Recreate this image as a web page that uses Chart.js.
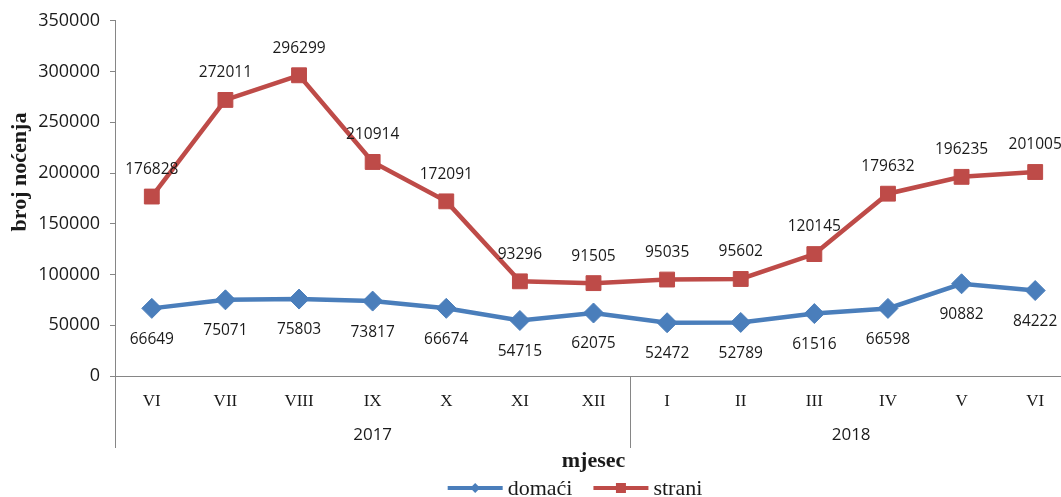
<!DOCTYPE html>
<html lang="en">
<head>
<meta charset="UTF-8">
<title>Noćenja turista</title>
<script src="https://cdn.jsdelivr.net/npm/chart.js@4.4.0/dist/chart.umd.min.js"></script>
<style>
    body { margin: 0; background: #fff; overflow: hidden; }
    .chart-box { width: 1141px; height: 497px; position: relative; }
</style>
</head>
<body>
<div class="chart-box"><canvas id="nocenja"></canvas></div>
<script>
    const months = ['VI', 'VII', 'VIII', 'IX', 'X', 'XI', 'XII', 'I', 'II', 'III', 'IV', 'V', 'VI'];
    const years = ['2017', '2018'];
    const yearFirstMonth = [0, 7];   // index of first month of each year
    const domaci = [66649, 75071, 75803, 73817, 66674, 54715, 62075, 52472, 52789, 61516, 66598, 90882, 84222];
    const strani = [176828, 272011, 296299, 210914, 172091, 93296, 91505, 95035, 95602, 120145, 179632, 196235, 201005];
    const yMax = 350000;
    const yStep = 50000;

    const BLUE = '#4a7ebb';
    const RED = '#be4b48';
    const AXIS = '#868686';
    const INK = '#1a1a1a';
    const SANS = '"Open Sans", "Liberation Sans", sans-serif';
    const SERIF = '"Liberation Serif", serif';

    const valueLabels = {
        id: 'valueLabels',
        afterDatasetsDraw(chart) {
            const ctx = chart.ctx;
            ctx.save();
            ctx.font = '15.5px ' + SANS;
            ctx.fillStyle = INK;
            ctx.textAlign = 'center';
            ctx.textBaseline = 'middle';
            chart.data.datasets.forEach((ds, i) => {
                const meta = chart.getDatasetMeta(i);
                meta.data.forEach((pt, j) => {
                    ctx.fillText(String(ds.data[j]), pt.x, pt.y + ds.labelOffset);
                });
            });
            ctx.restore();
        }
    };

    // year row under the months, separators, y axis title and the legend
    const extras = {
        id: 'extras',
        afterDraw(chart) {
            const x = chart.scales.x;
            const area = chart.chartArea;
            const ctx = chart.ctx;
            ctx.save();
            ctx.strokeStyle = AXIS;
            ctx.lineWidth = 1;
            const seps = [area.left, area.right];
            yearFirstMonth.slice(1).forEach(i => {
                seps.push((x.getPixelForValue(i - 1) + x.getPixelForValue(i)) / 2);
            });
            seps.forEach(px => {
                ctx.beginPath();
                ctx.moveTo(Math.round(px) + 0.5, area.bottom);
                ctx.lineTo(Math.round(px) + 0.5, area.bottom + 72);
                ctx.stroke();
            });
            ctx.font = '17px ' + SANS;
            ctx.fillStyle = INK;
            ctx.textAlign = 'center';
            ctx.textBaseline = 'middle';
            years.forEach((yr, k) => {
                const first = yearFirstMonth[k];
                const last = k + 1 < yearFirstMonth.length ? yearFirstMonth[k + 1] - 1 : months.length - 1;
                const cx = (x.getPixelForValue(first) + x.getPixelForValue(last)) / 2;
                ctx.fillText(yr, cx, area.bottom + 59);
            });

            // legend: line with marker, then the label
            ctx.font = '22px ' + SERIF;
            ctx.textAlign = 'left';
            const items = chart.data.datasets.map(ds => ({ ds, w: ctx.measureText(ds.label).width }));
            const total = items.reduce((s, it) => s + 60 + it.w, 0) + 21;
            let lx = 575 - total / 2;
            const ly = 488;
            items.forEach(({ ds, w }) => {
                ctx.strokeStyle = ds.borderColor;
                ctx.fillStyle = ds.borderColor;
                ctx.lineWidth = 4;
                ctx.beginPath(); ctx.moveTo(lx, ly); ctx.lineTo(lx + 55, ly); ctx.stroke();
                const mx = lx + 27.5;
                ctx.beginPath();
                if (ds.pointStyle === 'rectRot') {
                    ctx.moveTo(mx, ly - 5); ctx.lineTo(mx + 5, ly); ctx.lineTo(mx, ly + 5); ctx.lineTo(mx - 5, ly);
                } else {
                    ctx.rect(mx - 5, ly - 5, 10, 10);
                }
                ctx.fill();
                ctx.fillStyle = INK;
                ctx.fillText(ds.label, lx + 60, ly + 1);
                lx += 60 + w + 21;
            });

            ctx.translate(20, 172);
            ctx.rotate(-Math.PI / 2);
            ctx.textAlign = 'center';
            ctx.font = 'bold 22px ' + SERIF;
            ctx.fillText('broj noćenja', 0, 0);
            ctx.restore();
        }
    };

    new Chart(document.getElementById('nocenja'), {
        type: 'line',
        data: {
            labels: months,
            datasets: [{
                label: 'domaći',
                data: domaci,
                borderColor: BLUE,
                backgroundColor: BLUE,
                borderWidth: 4.5,
                pointStyle: 'rectRot',
                pointRadius: 10,
                pointBorderWidth: 1,
                labelOffset: 31,
                tension: 0
            }, {
                label: 'strani',
                data: strani,
                borderColor: RED,
                backgroundColor: RED,
                borderWidth: 4.5,
                pointStyle: 'rect',
                pointRadius: 10.5,
                pointBorderWidth: 1,
                labelOffset: -27,
                tension: 0
            }]
        },
        options: {
            responsive: true,
            maintainAspectRatio: false,
            animation: false,
            layout: { padding: { top: 12, right: 69, bottom: 20, left: 0 } },
            plugins: {
                tooltip: { enabled: false },
                legend: { display: false }
            },
            scales: {
                x: {
                    offset: true,
                    grid: { display: false, drawTicks: false },
                    border: { display: true, color: AXIS },
                    ticks: { padding: 15, color: INK, font: { family: SERIF, size: 17 } },
                    title: {
                        display: true,
                        text: 'mjesec',
                        color: INK,
                        font: { family: SERIF, size: 22, weight: 'bold' },
                        padding: { top: 0, bottom: 2 }
                    },
                    afterFit(scale) { scale.height = 101; }
                },
                y: {
                    min: 0,
                    max: yMax,
                    grid: { drawOnChartArea: false, drawTicks: true, tickLength: 5, color: AXIS },
                    border: { display: true, color: AXIS },
                    ticks: {
                        stepSize: yStep,
                        padding: 10,
                        color: INK,
                        font: { family: SANS, size: 18 },
                        callback: v => String(v)
                    },
                    afterFit(scale) { scale.width = 115; }
                }
            }
        },
        plugins: [valueLabels, extras]
    });
</script>
</body>
</html>
